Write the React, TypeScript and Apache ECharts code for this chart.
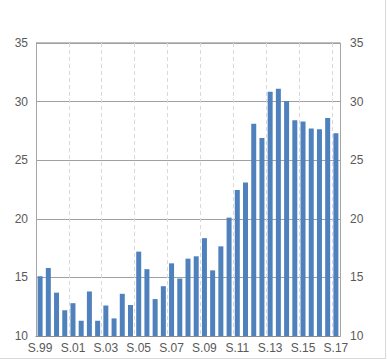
import React, { useEffect, useRef } from "react";
import * as echarts from "echarts";

const years = ["99","00","01","02","03","04","05","06","07","08","09","10","11","12","13","14","15","16","17"];
const categories: string[] = [];
years.forEach((y, i) => {
  categories.push("S." + y);
  if (i < years.length - 1) categories.push("W." + y);
});

const values = [
  15.1, 15.8, 13.7, 12.2, 12.8, 11.3, 13.8, 11.3, 12.6, 11.5,
  13.6, 12.65, 17.2, 15.7, 13.15, 14.25, 16.2, 14.9, 16.6, 16.8,
  18.35, 15.6, 17.65, 20.1, 22.45, 23.1, 28.1, 26.9, 30.85, 31.1,
  30.05, 28.4, 28.3, 27.7, 27.65, 28.6, 27.3,
];

const yTicks = [10, 15, 20, 25, 30, 35];

export default function App() {
  const ref = useRef<HTMLDivElement>(null);
  useEffect(() => {
    if (!ref.current) return;
    const chart = echarts.init(ref.current, null, { renderer: "svg" });
    const labelStyle = { color: "#595959", fontSize: 12, fontFamily: "Liberation Sans, Arial, sans-serif" };
    chart.setOption({
      animation: false,
      backgroundColor: "#ffffff",
      grid: { left: 36, right: 47, top: 43, bottom: 24, containLabel: false },
      xAxis: {
        type: "category",
        data: categories,
        boundaryGap: true,
        axisLine: { lineStyle: { color: "#8c8c8c", width: 1 } },
        axisTick: { show: false },
        axisLabel: {
          ...labelStyle,
          interval: 3,
          margin: 6,
        },
        splitLine: {
          show: true,
          interval: 3,
          lineStyle: { color: "#d9d9d9", type: [4, 3], width: 1 },
        },
      },
      yAxis: [
        {
          type: "value",
          min: yTicks[0],
          max: yTicks[yTicks.length - 1],
          interval: 5,
          position: "left",
          axisLine: { show: true, lineStyle: { color: "#a6a6a6" } },
          axisTick: { show: false },
          axisLabel: { ...labelStyle, margin: 8 },
          splitLine: { show: true, lineStyle: { color: "#a0a0a0", width: 1 } },
        },
        {
          type: "value",
          min: yTicks[0],
          max: yTicks[yTicks.length - 1],
          interval: 5,
          position: "right",
          axisLine: { show: true, lineStyle: { color: "#a6a6a6" } },
          axisTick: { show: false },
          axisLabel: { ...labelStyle, margin: 10 },
          splitLine: { show: false },
        },
      ],
      series: [
        {
          type: "bar",
          data: values,
          barWidth: 5,
          yAxisIndex: 0,
          itemStyle: { color: "#4f81bd" },
        },
      ],
      graphic: [
        { type: "line", shape: { x1: 36, y1: 43, x2: 340, y2: 43 }, style: { stroke: "#c0c0c0", lineWidth: 2 } },
        { type: "line", shape: { x1: 385.5, y1: 0, x2: 385.5, y2: 358 }, style: { stroke: "#d9d9d9", lineWidth: 1 } },
        { type: "line", shape: { x1: 0, y1: 358.5, x2: 386, y2: 358.5 }, style: { stroke: "#d9d9d9", lineWidth: 1 } },
      ],
    });
    return () => chart.dispose();
  }, []);
  return <div ref={ref} style={{ width: 387, height: 360, position: "absolute", left: 0, top: 0 }} />;
}
